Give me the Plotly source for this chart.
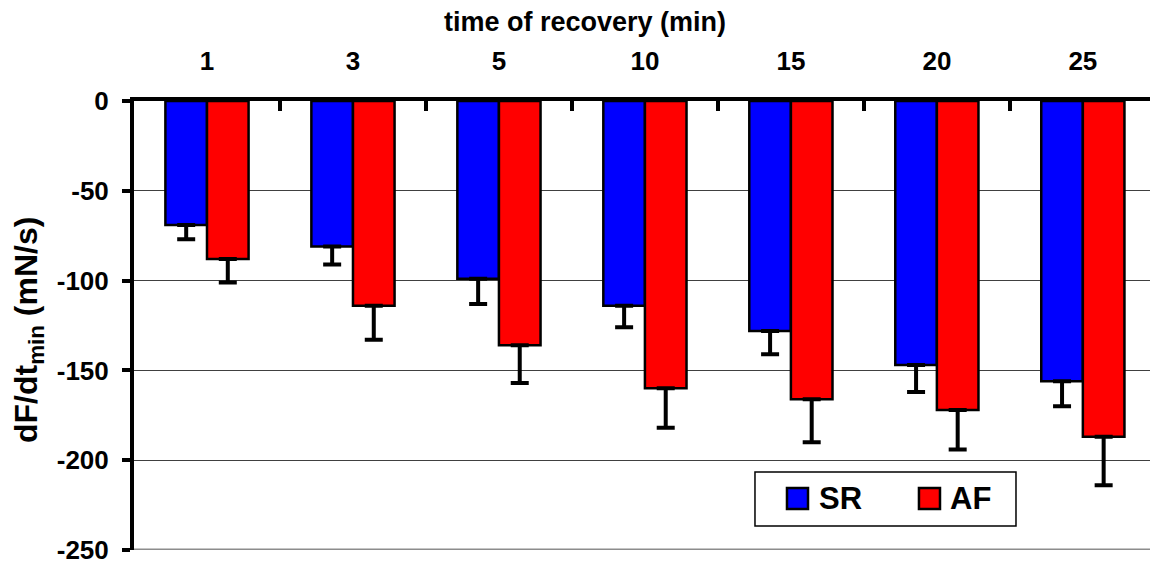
import plotly.graph_objects as go

# Recovery time points (min)
times = ["1", "3", "5", "10", "15", "20", "25"]

# Mean dF/dt_min (mN/s) and SEM for each rhythm group
series_names = ["SR", "AF"]
sr_mean = [-69, -81, -99, -114, -128, -147, -156]
sr_err = [8, 10, 14, 12, 13, 15, 14]
af_mean = [-88, -114, -136, -160, -166, -172, -187]
af_err = [13, 19, 21, 22, 24, 22, 27]

# Value-axis ticks, written with a plain hyphen
ytick_vals = [0, -50, -100, -150, -200, -250]
ytick_text = ["0", "-50", "-100", "-150", "-200", "-250"]

colors = ["#0000FF", "#FF0000"]
FONT = "Arial, Liberation Sans, sans-serif"

fig = go.Figure()
for name, mean, err, col in zip(series_names, [sr_mean, af_mean], [sr_err, af_err], colors):
    fig.add_trace(go.Bar(
        x=times, y=mean, name=name,
        marker=dict(color=col, line=dict(color="black", width=2.5)),
        error_y=dict(type="data", symmetric=False, array=[0] * len(err), arrayminus=err,
                     color="black", thickness=4, width=9),
        showlegend=False,
    ))

fig.update_layout(
    width=1150, height=564,
    margin=dict(l=134, r=0, t=101, b=14),
    paper_bgcolor="white", plot_bgcolor="white",
    barmode="group", bargap=0.43, bargroupgap=0,
    font=dict(family=FONT, color="black"),
)

fig.update_xaxes(
    type="category", side="top", range=[-0.5, 6.46],
    showline=True, linecolor="black", linewidth=4,
    ticks="inside", tickson="boundaries", ticklen=10, tickwidth=4, tickcolor="black",
    showgrid=False, zeroline=False,
    tickfont=dict(family=FONT, size=26, weight="bold", color="black"),
    ticklabelstandoff=17,
)
fig.update_yaxes(
    range=[-250, 0], tickmode="array", tickvals=ytick_vals, ticktext=ytick_text,
    showline=True, linecolor="black", linewidth=4,
    ticks="outside", ticklen=8, tickwidth=4, tickcolor="black",
    showgrid=True, gridcolor="#404040", gridwidth=1, zeroline=False,
    tickfont=dict(family=FONT, size=26, weight="bold", color="black"),
    ticklabelstandoff=8, ticklabeloverflow="allow",
)

# Bottom frame line of the plotting area
fig.add_shape(type="line", xref="paper", yref="y", x0=0, x1=1, y0=-250, y1=-250,
              line=dict(color="#8c8c8c", width=3))

# Axis titles
fig.add_annotation(text="<b>time of recovery (min)</b>", xref="paper", yref="paper",
                   x=0.444, y=1.175, xanchor="center", yanchor="middle", showarrow=False,
                   font=dict(family=FONT, size=27, color="black"))
fig.add_annotation(text="<b>dF/dt<sub>min</sub> (mN/s)</b>", xref="paper", yref="paper",
                   x=-0.1033, y=0.49, xanchor="center", yanchor="middle", showarrow=False,
                   textangle=-90, font=dict(family=FONT, size=32, color="black"))

# Legend box with square swatches
fig.add_shape(type="rect", xref="paper", yref="paper", x0=0.6112, x1=0.8681, y0=0.0535, y1=0.1737,
              line=dict(color="black", width=1.5), fillcolor="white")
swatch_x = [0.6427, 0.7726]
label_x = [0.6722, 0.8012]
for name, col, sx, lx in zip(series_names, colors, swatch_x, label_x):
    fig.add_shape(type="rect", xref="paper", yref="paper", x0=sx, x1=sx + 0.0207,
                  y0=0.0913, y1=0.1381, line=dict(color="black", width=2.5), fillcolor=col)
    fig.add_annotation(text="<b>%s</b>" % name, xref="paper", yref="paper", x=lx, y=0.1136,
                       xanchor="left", yanchor="middle", showarrow=False,
                       font=dict(family=FONT, size=31, color="black"))

fig.write_html("out.html")
